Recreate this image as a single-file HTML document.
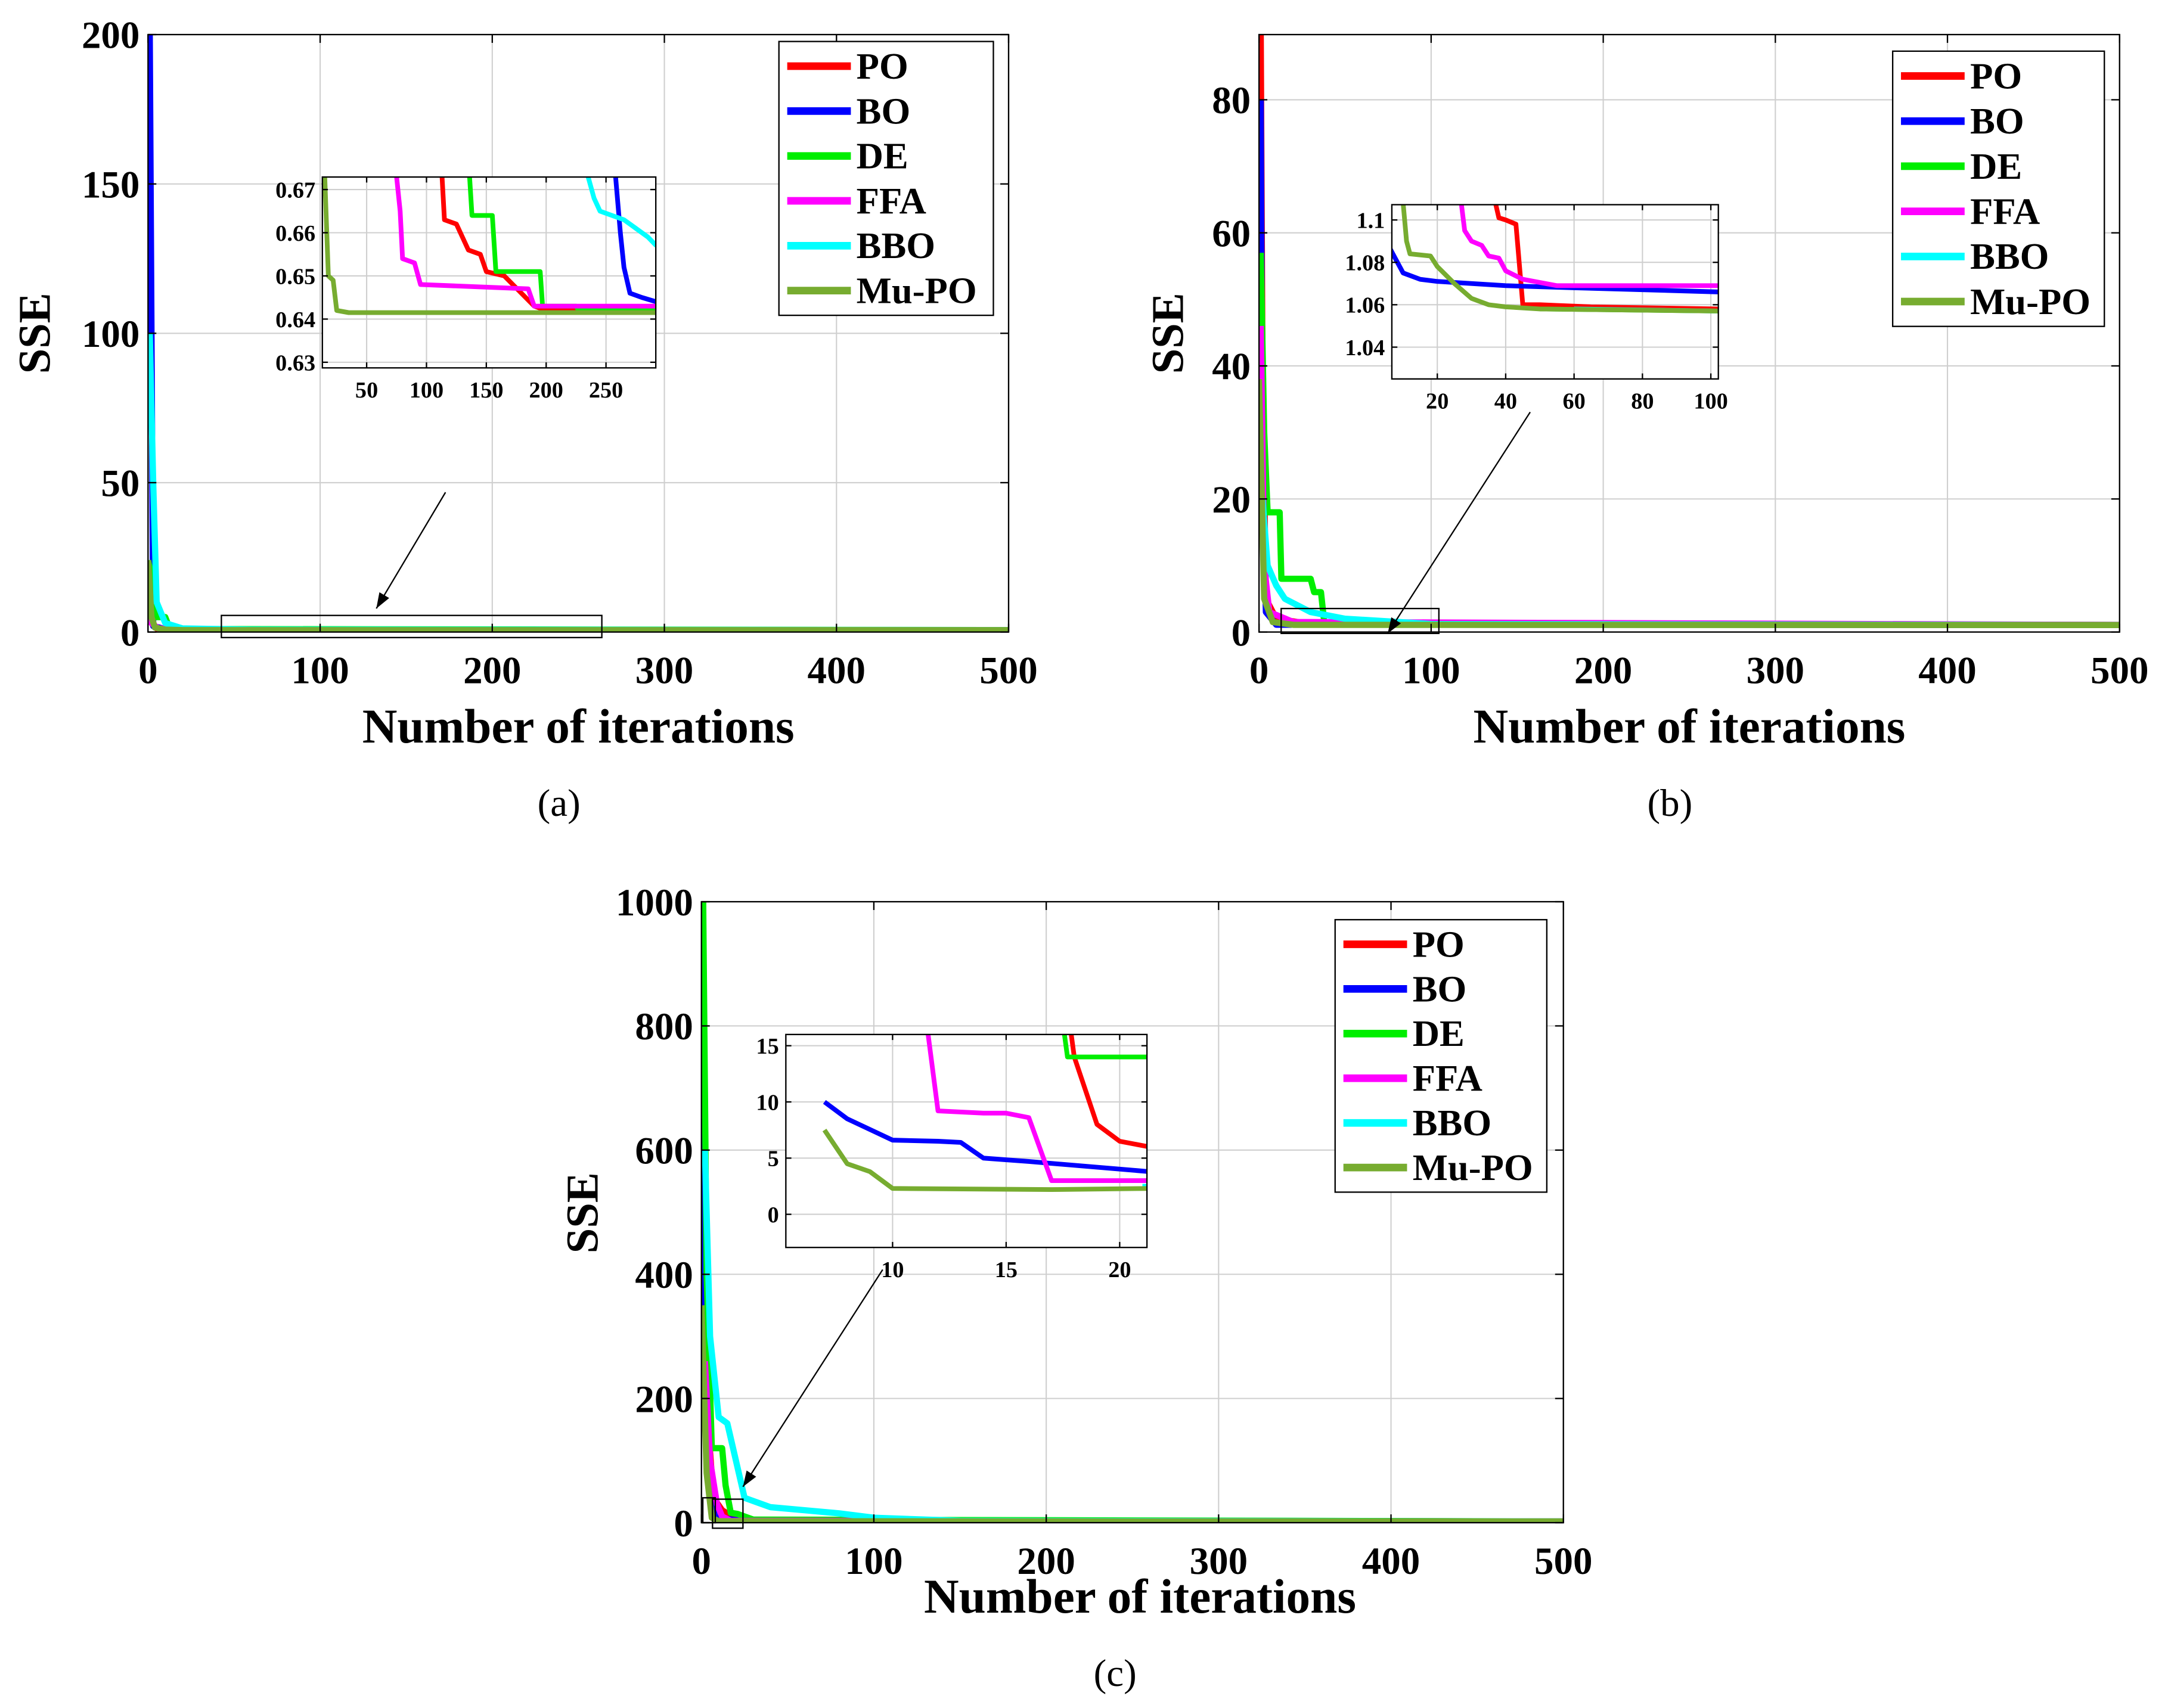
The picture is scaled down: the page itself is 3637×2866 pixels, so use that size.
<!DOCTYPE html>
<html><head><meta charset="utf-8">
<style>
html,body{margin:0;padding:0;background:#fff;}
svg{display:block;}
text{font-family:"Liberation Serif",serif;}
</style></head>
<body>
<svg id="fig" width="3637" height="2866" viewBox="0 0 1567 1235" preserveAspectRatio="none" xmlns="http://www.w3.org/2000/svg"></svg>
<script>
// ---------- data ----------
const seriesNames = ["PO","BO","DE","FFA","BBO","Mu-PO"];
const seriesColors = ["#ff0000","#0000ff","#00ee00","#ff00ff","#00ffff","#77ac30"];
// Panel (a) main curves [iteration, SSE]
const aPO  = [[0,16],[2,3],[5,1.2],[15,0.8],[50,0.66],[500,0.642]];
const aBO  = [[1,200],[2,100],[3,2],[10,1],[50,0.7],[500,0.644]];
const aDE  = [[0,24],[3,16],[5,5],[10,5],[12,2],[20,1],[500,0.642]];
const aFFA = [[0,15],[2,3],[6,1.2],[30,0.7],[500,0.643]];
const aBBO = [[1,100],[3,50],[5,10],[10,3],[20,1.2],[60,0.8],[500,0.66]];
const aMU  = [[0,24],[2,5],[4,1.5],[10,0.8],[20,0.65],[500,0.6415]];
// Panel (a) inset
const aiPO  = [[113,0.673],[115,0.663],[125,0.662],[130,0.659],[135,0.656],[145,0.655],[150,0.651],[165,0.650],[190,0.643],[200,0.642],[292,0.642]];
const aiBO  = [[258,0.673],[262,0.66],[265,0.652],[270,0.646],[280,0.645],[292,0.644]];
const aiDE  = [[136,0.673],[138,0.664],[155,0.664],[158,0.651],[195,0.651],[197,0.643],[225,0.643],[227,0.642],[292,0.642]];
const aiFFA = [[75,0.673],[78,0.665],[80,0.654],[90,0.653],[95,0.648],[185,0.647],[190,0.643],[292,0.643]];
const aiBBO = [[235,0.673],[240,0.668],[245,0.665],[255,0.664],[265,0.663],[275,0.661],[285,0.659],[292,0.657]];
const aiMU  = [[15,0.673],[18,0.65],[22,0.649],[25,0.642],[35,0.6415],[292,0.6415]];
// Panel (b) main
const bPO  = [[1,90],[2,40],[4,5],[10,2],[30,1.2],[500,1.058]];
const bBO  = [[1,80],[2,20],[4,3],[10,1.1],[500,1.066]];
const bDE  = [[1,57],[3,30],[5,18],[12,18],[13,8],[30,8],[32,6],[36,6],[38,1.2],[500,1.058]];
const bFFA = [[1,46],[3,10],[6,3],[20,1.5],[500,1.069]];
const bBBO = [[2,20],[5,10],[10,7],[15,5],[30,3],[50,2],[100,1.2],[500,1.058]];
const bMU  = [[0,38],[3,5],[8,1.5],[20,1.08],[500,1.057]];
// Panel (b) inset
const biPO  = [[37,1.108],[38,1.101],[40,1.100],[43,1.098],[45,1.06],[50,1.06],[65,1.059],[103,1.058]];
const biBO  = [[6,1.087],[10,1.075],[15,1.072],[20,1.071],[40,1.069],[60,1.068],[103,1.066]];
const biDE  = [[50,1.058],[103,1.057]];
const biFFA = [[27,1.108],[28,1.095],[30,1.09],[33,1.088],[35,1.083],[38,1.082],[40,1.076],[45,1.072],[55,1.069],[103,1.069]];
const biBBO = [[60,1.058],[103,1.057]];
const biMU  = [[10,1.108],[11,1.09],[12,1.084],[18,1.083],[20,1.078],[25,1.070],[30,1.063],[35,1.060],[40,1.059],[50,1.058],[103,1.057]];
// Panel (c) main
const cPO  = [[2,300],[4,150],[7,40],[12,20],[20,6],[40,3],[500,2]];
const cBO  = [[1,650],[2,200],[5,40],[8,9],[20,4],[500,2]];
const cDE  = [[1,1000],[3,400],[6,120],[12,120],[14,60],[17,16],[21,14],[30,5],[500,2]];
const cFFA = [[2,260],[5,100],[9,30],[12,10],[17,3],[500,2]];
const cBBO = [[2,600],[5,300],[10,170],[15,160],[20,100],[25,40],[40,25],[60,20],[80,15],[100,8],[150,3],[500,2]];
const cMU  = [[0,350],[3,80],[6,8],[10,2.3],[500,2]];
// Panel (c) inset
const ciPO  = [[17.8,17],[18,14],[19,8],[20,6.5],[21.3,6]];
const ciBO  = [[7,10],[8,8.5],[10,6.6],[12,6.5],[13,6.4],[14,5],[16,4.7],[21.3,3.8]];
const ciDE  = [[17.5,17],[17.7,14],[21.3,14]];
const ciFFA = [[11.5,17],[12,9.2],[14,9],[15,9],[16,8.6],[17,3],[21.3,3]];
const ciBBO = [[21,2.5],[21.3,2.5]];
const ciMU  = [[7,7.5],[8,4.5],[9,3.8],[10,2.3],[17,2.2],[21.3,2.3]];
// ticks
const aXTicks=[0,100,200,300,400,500], aYTicks=[0,50,100,150,200];
const aiXTicks=[50,100,150,200,250], aiYTicks=[0.63,0.64,0.65,0.66,0.67];
const bXTicks=[0,100,200,300,400,500], bYTicks=[0,20,40,60,80];
const biXTicks=[20,40,60,80,100], biYTicks=[1.04,1.06,1.08,1.1];
const cXTicks=[0,100,200,300,400,500], cYTicks=[0,200,400,600,800,1000];
const ciXTicks=[10,15,20], ciYTicks=[0,5,10,15];

// ---------- drawing ----------
const NS="http://www.w3.org/2000/svg";
const svg=document.getElementById('fig');
let clipId=0;
function mk(tag,attrs,parent){const e=document.createElementNS(NS,tag);for(const k in attrs)e.setAttribute(k,attrs[k]);(parent||svg).appendChild(e);return e;}
function txt(s,attrs,parent){const t=mk('text',attrs,parent);t.textContent=s;return t;}

function drawAxes(p){
  const g=mk('g',{});
  
  
  const sx=v=>p.x0+(v-p.xmin)/(p.xmax-p.xmin)*(p.x1-p.x0);
  const sy=v=>p.y1-(v-p.ymin)/(p.ymax-p.ymin)*(p.y1-p.y0);
  mk('rect',{x:p.x0,y:p.y0,width:p.x1-p.x0,height:p.y1-p.y0,fill:'#fff',stroke:'none'},g);
  p.xt.forEach(v=>{const X=sx(v);mk('line',{x1:X,x2:X,y1:p.y0,y2:p.y1,stroke:'#cfcfcf','stroke-width':0.9},g);});
  p.yt.forEach(v=>{const Y=sy(v);mk('line',{x1:p.x0,x2:p.x1,y1:Y,y2:Y,stroke:'#cfcfcf','stroke-width':0.9},g);});
  const id='clip'+(clipId++);
  const cp=mk('clipPath',{id:id},g);
  mk('rect',{x:p.x0,y:p.y0,width:p.x1-p.x0,height:p.y1-p.y0},cp);
  p.series.forEach((s,i)=>{
    const d=s.map((pt,j)=>(j?'L':'M')+sx(pt[0]).toFixed(2)+','+sy(pt[1]).toFixed(2)).join(' ');
    const path=mk('path',{d:d,fill:'none',stroke:seriesColors[i],'stroke-width':p.lw,'stroke-linejoin':'round','clip-path':'url(#'+id+')'},g);
    
    
  });
  mk('rect',{x:p.x0,y:p.y0,width:p.x1-p.x0,height:p.y1-p.y0,fill:'none',stroke:'#000','stroke-width':1},g);
  const tl=p.inset?4:6;
  p.xt.forEach(v=>{const X=sx(v);
    mk('line',{x1:X,x2:X,y1:p.y1,y2:p.y1-tl,stroke:'#000','stroke-width':1},g);
    mk('line',{x1:X,x2:X,y1:p.y0,y2:p.y0+tl,stroke:'#000','stroke-width':1},g);
    const t=txt(String(v),{x:X,y:p.y1+p.fs+(p.inset?5:9),'font-size':p.fs,'font-weight':'bold','text-anchor':'middle'},g);
    });
  p.yt.forEach(v=>{const Y=sy(v);
    mk('line',{x1:p.x0,x2:p.x0+tl,y1:Y,y2:Y,stroke:'#000','stroke-width':1},g);
    mk('line',{x1:p.x1,x2:p.x1-tl,y1:Y,y2:Y,stroke:'#000','stroke-width':1},g);
    const t=txt(String(v),{x:p.x0-(p.inset?5:6),y:Y+p.fs*0.35,'font-size':p.fs,'font-weight':'bold','text-anchor':'end'},g);
    });
  return {sx,sy};
}
function legend(x,y,w,h,prefix){
  const g=mk('g',{});
  
  
  mk('rect',{x:x,y:y,width:w,height:h,fill:'#fff',stroke:'#000','stroke-width':1},g);
  const step=h/6.1;
  seriesNames.forEach((n,i)=>{
    const cy=y+step*(i+0.55);
    const e=mk('g',{},g);
    
    
    mk('line',{x1:x+6,x2:x+52,y1:cy,y2:cy,stroke:seriesColors[i],'stroke-width':5.5},e);
    txt(n,{x:x+56,y:cy+9,'font-size':27,'font-weight':'bold'},e);
  });
}
function label(s,attrs,name){const t=txt(s,attrs);return t;}
function arrow(x1,y1,x2,y2,name){
  const g=mk('g',{});
  mk('line',{x1,y1,x2,y2,stroke:'#000','stroke-width':1},g);
  const a=Math.atan2(y2-y1,x2-x1),L=12,W=0.35;
  const p=[[x2,y2],[x2-L*Math.cos(a-W),y2-L*Math.sin(a-W)],[x2-L*Math.cos(a+W),y2-L*Math.sin(a+W)]];
  mk('polygon',{points:p.map(q=>q.join(',')).join(' '),fill:'#000'},g);
}

// Panel a
drawAxes({name:'panel-a',x0:107,x1:729,y0:25,y1:457,xmin:0,xmax:500,ymin:0,ymax:200,xt:aXTicks,yt:aYTicks,fs:28,lw:4.5,series:[aPO,aBO,aDE,aFFA,aBBO,aMU]});
label('Number of iterations',{x:418,y:537,'font-size':35,'font-weight':'bold','text-anchor':'middle'},'panel-a-x-axis-title');
label('SSE',{x:36,y:241,'font-size':33,'font-weight':'bold','text-anchor':'middle',transform:'rotate(-90 36 241)'},'panel-a-y-axis-title');
legend(563,30,155,198,'panel-a');
mk('rect',{x:160,y:445,width:275,height:16,fill:'none',stroke:'#000','stroke-width':1});
arrow(322,356,272,440,'panel-a-zoom-arrow');
drawAxes({name:'panel-a-inset',inset:true,x0:233,x1:474,y0:128,y1:266,xmin:13,xmax:291.6,ymin:0.6287,ymax:0.6729,xt:aiXTicks,yt:aiYTicks,fs:16.5,lw:3.4,series:[aiPO,aiBO,aiDE,aiFFA,aiBBO,aiMU]});
label('(a)',{x:404,y:590,'font-size':28,'text-anchor':'middle'},'panel-a-caption');

// Panel b
drawAxes({name:'panel-b',x0:910,x1:1532,y0:25,y1:457,xmin:0,xmax:500,ymin:0,ymax:89.8,xt:bXTicks,yt:bYTicks,fs:28,lw:4.5,series:[bPO,bBO,bDE,bFFA,bBBO,bMU]});
label('Number of iterations',{x:1221,y:537,'font-size':35,'font-weight':'bold','text-anchor':'middle'},'panel-b-x-axis-title');
label('SSE',{x:855,y:241,'font-size':33,'font-weight':'bold','text-anchor':'middle',transform:'rotate(-90 855 241)'},'panel-b-y-axis-title');
legend(1368,37,153,199,'panel-b');
mk('rect',{x:926,y:440,width:114,height:18,fill:'none',stroke:'#000','stroke-width':1});
arrow(1106,298,1003,458,'panel-b-zoom-arrow');
drawAxes({name:'panel-b-inset',inset:true,x0:1006,x1:1242,y0:148,y1:274,xmin:6.7,xmax:102.2,ymin:1.025,ymax:1.1072,xt:biXTicks,yt:biYTicks,fs:16.5,lw:3.4,series:[biPO,biBO,biDE,biFFA,biBBO,biMU]});
label('(b)',{x:1207,y:590,'font-size':28,'text-anchor':'middle'},'panel-b-caption');

// Panel c
drawAxes({name:'panel-c',x0:507,x1:1130,y0:652,y1:1101,xmin:0,xmax:500,ymin:0,ymax:1000,xt:cXTicks,yt:cYTicks,fs:28,lw:4.5,series:[cPO,cBO,cDE,cFFA,cBBO,cMU]});
label('Number of iterations',{x:824,y:1166,'font-size':35,'font-weight':'bold','text-anchor':'middle'},'panel-c-x-axis-title');
label('SSE',{x:432,y:877,'font-size':33,'font-weight':'bold','text-anchor':'middle',transform:'rotate(-90 432 877)'},'panel-c-y-axis-title');
legend(965,665,153,197,'panel-c');
mk('rect',{x:508,y:1083,width:9,height:18,fill:'none',stroke:'#000','stroke-width':1});
mk('rect',{x:515,y:1084,width:22,height:21,fill:'none',stroke:'#000','stroke-width':1});
arrow(638,918,537,1075,'panel-c-zoom-arrow');
drawAxes({name:'panel-c-inset',inset:true,x0:568,x1:829,y0:748,y1:902,xmin:5.3,xmax:21.2,ymin:-2.95,ymax:16,xt:ciXTicks,yt:ciYTicks,fs:16.5,lw:3.4,series:[ciPO,ciBO,ciDE,ciFFA,ciBBO,ciMU]});
label('(c)',{x:806,y:1219,'font-size':28,'text-anchor':'middle'},'panel-c-caption');
</script>
</body></html>
